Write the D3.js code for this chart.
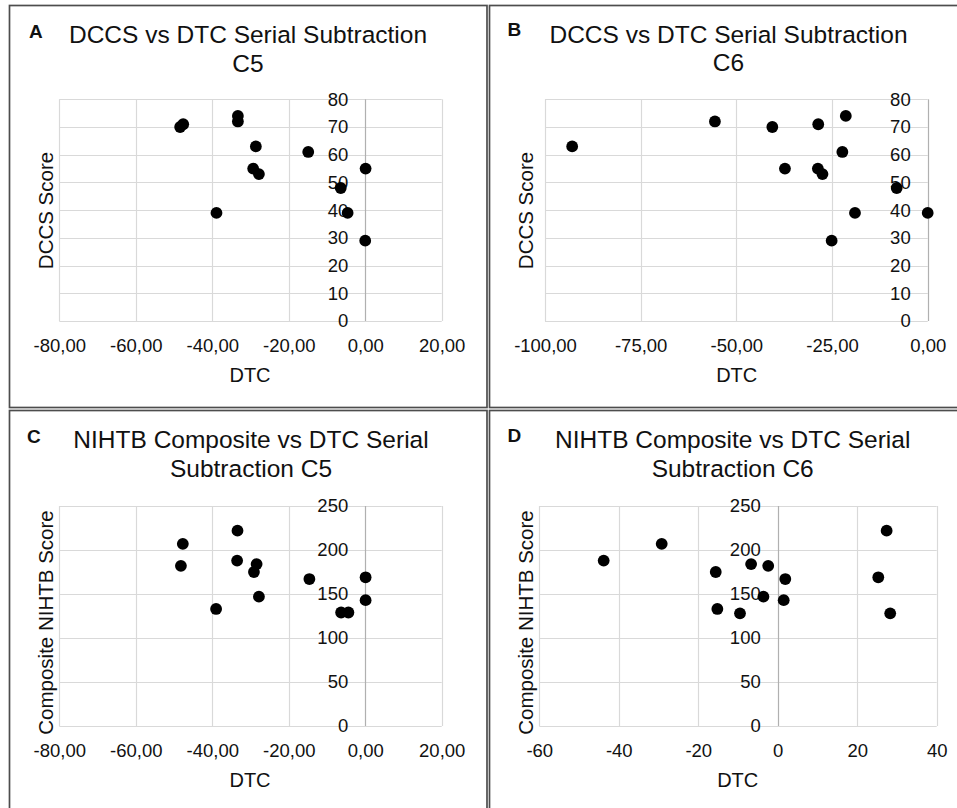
<!DOCTYPE html>
<html>
<head>
<meta charset="utf-8">
<script src="https://cdn.jsdelivr.net/npm/d3@7/dist/d3.min.js"></script>
<style>
  html, body { margin: 0; padding: 0; background: #fff; }
  svg { display: block; font-family: "Liberation Sans", Arial, sans-serif; }
</style>
</head>
<body>
<svg id="chart" width="957" height="808"></svg>
<script>
// ---------- DATA ----------
// Panel A: DCCS vs DTC Serial Subtraction C5
const aDTC  = [-48.4, -47.6, -33.3, -33.3, -28.6, -14.9, -29.3, -27.8, 0.1, -6.4, -4.6, -38.9, 0.0];
const aDCCS = [70, 71, 74, 72, 63, 61, 55, 53, 55, 48, 39, 39, 29];
// Panel B: DCCS vs DTC Serial Subtraction C6
const bDTC  = [-92.9, -55.6, -40.6, -28.6, -21.4, -22.3, -37.3, -28.7, -27.5, -8.1, -19.0, 0.0, -25.1];
const bDCCS = [63, 72, 70, 71, 74, 61, 55, 55, 53, 48, 39, 39, 29];
// Panel C: NIHTB Composite vs DTC Serial Subtraction C5
const cDTC   = [-47.7, -48.2, -33.4, -33.5, -28.4, -29.1, -27.8, -39.0, -14.6, 0.1, 0.1, -6.3, -4.4];
const cNIHTB = [207, 182, 222, 188, 184, 175, 147, 133, 167, 169, 143, 129, 129];
// Panel D: NIHTB Composite vs DTC Serial Subtraction C6
const dDTC   = [-43.8, -29.2, -15.6, -15.2, -9.5, -6.7, -2.4, -3.6, 1.9, 1.5, 27.4, 25.3, 28.3];
const dNIHTB = [188, 207, 175, 133, 128, 184, 182, 147, 167, 143, 222, 169, 128];

// Tick values
const xTicksC5 = [-80, -60, -40, -20, 0, 20];
const xTicksB  = [-100, -75, -50, -25, 0];
const xTicksD  = [-60, -40, -20, 0, 20, 40];
const yTicksDCCS  = [0, 10, 20, 30, 40, 50, 60, 70, 80];
const yTicksNIHTB = [0, 50, 100, 150, 200, 250];

// Text
const panelLetters = ["A", "B", "C", "D"];
const titlesA = ["DCCS vs DTC Serial Subtraction", "C5"];
const titlesB = ["DCCS vs DTC Serial Subtraction", "C6"];
const titlesC = ["NIHTB Composite vs DTC Serial", "Subtraction C5"];
const titlesD = ["NIHTB Composite vs DTC Serial", "Subtraction C6"];
const xTitle = "DTC";
const yTitleDCCS = "DCCS Score";
const yTitleNIHTB = "Composite NIHTB Score";

// ---------- DRAW ----------
const svg = d3.select("#chart");
const loc = d3.formatLocale({decimal: ",", thousands: ".", grouping: [3], currency: ["", ""], minus: "-"});
const fmt2 = loc.format(".2f");
const fmt0 = loc.format("d");
const FONT = "'Liberation Sans', Arial, sans-serif";

// Panel frames
const frames = [
  {x1: 9.5, y1: 5.5, x2: 487, y2: 407.5},
  {x1: 489.5, y1: 5.5, x2: 960, y2: 407.5},
  {x1: 9.5, y1: 410.5, x2: 487, y2: 812},
  {x1: 489.5, y1: 410.5, x2: 960, y2: 812}
];
frames.forEach(f => {
  svg.append("rect").attr("x", f.x1).attr("y", f.y1)
    .attr("width", f.x2 - f.x1).attr("height", f.y2 - f.y1)
    .attr("fill", "none").attr("stroke", "#4d4d4d").attr("stroke-width", 1.7);
});

function drawPanel(p) {
  const g = svg.append("g");
  const x = d3.scaleLinear().domain(p.xDomain).range([p.left, p.right]);
  const y = d3.scaleLinear().domain(p.yDomain).range([p.bottom, p.top]);

  // gridlines
  g.selectAll(".hg").data(p.yTicks).join("line")
    .attr("x1", p.left).attr("x2", p.right)
    .attr("y1", d => Math.round(y(d)) + 0.5).attr("y2", d => Math.round(y(d)) + 0.5)
    .attr("stroke", "#d9d9d9").attr("stroke-width", 1.2);
  g.selectAll(".vg").data(p.xTicks).join("line")
    .attr("x1", d => Math.round(x(d)) + 0.5).attr("x2", d => Math.round(x(d)) + 0.5)
    .attr("y1", p.top).attr("y2", p.bottom)
    .attr("stroke", d => d === 0 ? "#b0b0b0" : "#d9d9d9").attr("stroke-width", 1.2);

  // y axis (crossing at x = 0)
  const yAxis = d3.axisLeft(y).tickValues(p.yTicks).tickSize(0).tickPadding(17).tickFormat(d3.format("d"));
  const ya = g.append("g").attr("transform", `translate(${x(0)},0)`).call(yAxis);
  ya.select(".domain").remove();
  ya.selectAll("text").attr("font-size", 18.5).attr("fill", "#111").attr("font-family", FONT);

  // x axis labels at bottom
  const xAxis = d3.axisBottom(x).tickValues(p.xTicks).tickSize(0).tickFormat(p.fmt);
  const xa = g.append("g").attr("transform", `translate(0,${p.bottom})`).call(xAxis);
  xa.select(".domain").remove();
  xa.selectAll("text").attr("y", 31).attr("dy", null).attr("font-size", 18.5).attr("fill", "#111")
    .attr("font-family", FONT);

  // points
  g.selectAll("circle").data(p.xs.map((v, i) => [v, p.ys[i]])).join("circle")
    .attr("cx", d => x(d[0])).attr("cy", d => y(d[1])).attr("r", 5.9).attr("fill", "#000");

  // titles
  p.title.forEach((t, i) => {
    g.append("text").attr("x", p.titleX).attr("y", p.titleY + i * 28.3)
      .attr("text-anchor", "middle").attr("font-size", 24.5).attr("fill", "#111").text(t);
  });
  // panel letter
  g.append("text").attr("x", p.letterX).attr("y", p.letterY)
    .attr("font-size", 19).attr("font-weight", "bold").attr("fill", "#111").text(p.letter);

  // axis titles
  g.append("text").attr("x", p.xTitleX).attr("y", p.bottom + 60.7)
    .attr("text-anchor", "middle").attr("font-size", 20).attr("fill", "#111").text(xTitle);
  g.append("text").attr("transform", `translate(${p.yTitleX},${p.yTitleY}) rotate(-90)`)
    .attr("text-anchor", "middle").attr("font-size", 20.5).attr("fill", "#111").text(p.yTitle);
}

drawPanel({letter: panelLetters[0], xs: aDTC, ys: aDCCS, xDomain: [-80, 20], yDomain: [0, 80],
  xTicks: xTicksC5, yTicks: yTicksDCCS, fmt: fmt2, left: 59.3, right: 441.7, top: 99.3, bottom: 321,
  title: titlesA, titleX: 248, titleY: 43.3, letterX: 29, letterY: 38,
  xTitleX: 250, yTitleX: 52.5, yTitleY: 210.5, yTitle: yTitleDCCS});

drawPanel({letter: panelLetters[1], xs: bDTC, ys: bDCCS, xDomain: [-100, 0], yDomain: [0, 80],
  xTicks: xTicksB, yTicks: yTicksDCCS, fmt: fmt2, left: 545, right: 927.7, top: 99.3, bottom: 321,
  title: titlesB, titleX: 728.5, titleY: 42.8, letterX: 507.5, letterY: 36,
  xTitleX: 736.7, yTitleX: 532.5, yTitleY: 210.5, yTitle: yTitleDCCS});

drawPanel({letter: panelLetters[2], xs: cDTC, ys: cNIHTB, xDomain: [-80, 20], yDomain: [0, 250],
  xTicks: xTicksC5, yTicks: yTicksNIHTB, fmt: fmt2, left: 59.3, right: 441.7, top: 506, bottom: 726,
  title: titlesC, titleX: 251, titleY: 448.3, letterX: 27, letterY: 443.3,
  xTitleX: 250, yTitleX: 52.5, yTitleY: 622.5, yTitle: yTitleNIHTB});

drawPanel({letter: panelLetters[3], xs: dDTC, ys: dNIHTB, xDomain: [-60, 40], yDomain: [0, 250],
  xTicks: xTicksD, yTicks: yTicksNIHTB, fmt: fmt0, left: 539.3, right: 936.7, top: 506, bottom: 726,
  title: titlesD, titleX: 732.7, titleY: 448.3, letterX: 507.5, letterY: 441.7,
  xTitleX: 737.7, yTitleX: 532.5, yTitleY: 622.5, yTitle: yTitleNIHTB});
</script>
</body>
</html>
